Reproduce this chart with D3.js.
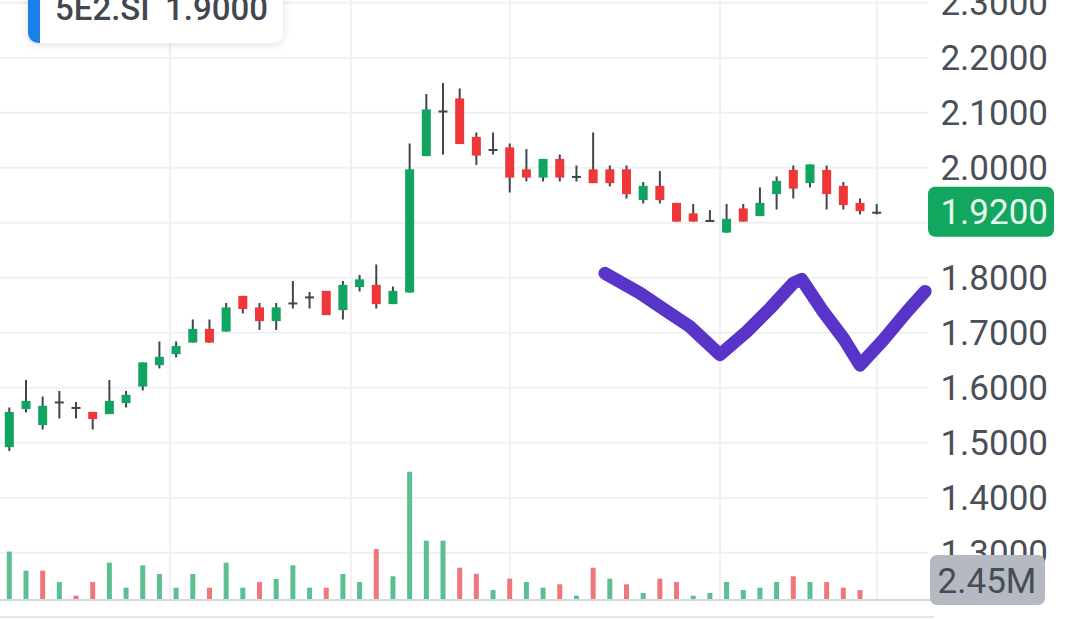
<!DOCTYPE html>
<html>
<head>
<meta charset="utf-8">
<script src="https://cdn.jsdelivr.net/npm/d3@7"></script>
<style>
  html, body { margin: 0; padding: 0; background: #fff; }
  svg { display: block; font-family: Roboto, "Noto Sans", sans-serif; }
</style>
</head>
<body>
<div class="visual"></div>
<script>
const width = 1080;
const height = 619;

// daily candles
const opens  = [1.492, 1.561, 1.532, 1.575, 1.565, 1.556, 1.552, 1.572, 1.602, 1.641,
                1.661, 1.682, 1.707, 1.702, 1.767, 1.746, 1.721, 1.755, 1.766, 1.776,
                1.741, 1.783, 1.787, 1.752, 1.773, 2.021, 2.104, 2.126, 2.056, 2.034,
                2.037, 1.997, 1.982, 2.016, 1.985, 1.997, 1.997, 1.997, 1.941, 1.967,
                1.936, 1.917, 1.905, 1.882, 1.926, 1.912, 1.952, 1.996, 1.972, 1.996,
                1.967, 1.936, 1.920];
const highs  = [1.564, 1.614, 1.584, 1.594, 1.574, 1.556, 1.614, 1.594, 1.646, 1.684,
                1.684, 1.724, 1.724, 1.754, 1.767, 1.754, 1.754, 1.794, 1.774, 1.776,
                1.794, 1.805, 1.824, 1.784, 2.044, 2.134, 2.154, 2.144, 2.064, 2.064,
                2.044, 2.034, 2.016, 2.024, 2.004, 2.064, 2.004, 2.004, 1.974, 1.994,
                1.936, 1.934, 1.923, 1.934, 1.934, 1.964, 1.984, 2.004, 2.006, 2.004,
                1.974, 1.944, 1.934];
const lows   = [1.485, 1.555, 1.524, 1.544, 1.544, 1.524, 1.552, 1.564, 1.595, 1.635,
                1.655, 1.682, 1.682, 1.702, 1.735, 1.705, 1.705, 1.744, 1.744, 1.732,
                1.724, 1.775, 1.744, 1.752, 1.773, 2.021, 2.024, 2.043, 2.005, 2.024,
                1.955, 1.975, 1.975, 1.975, 1.975, 1.972, 1.966, 1.944, 1.935, 1.935,
                1.902, 1.902, 1.902, 1.882, 1.902, 1.912, 1.924, 1.944, 1.964, 1.924,
                1.924, 1.915, 1.915];
const closes = [1.556, 1.576, 1.567, 1.575, 1.565, 1.543, 1.576, 1.587, 1.646, 1.656,
                1.676, 1.707, 1.682, 1.746, 1.743, 1.721, 1.746, 1.755, 1.766, 1.732,
                1.787, 1.797, 1.752, 1.776, 1.997, 2.106, 2.104, 2.043, 2.022, 2.034,
                1.982, 1.982, 2.016, 1.982, 1.985, 1.972, 1.972, 1.952, 1.967, 1.941,
                1.902, 1.902, 1.905, 1.907, 1.902, 1.936, 1.976, 1.962, 2.006, 1.952,
                1.932, 1.921, 1.920];

// volume in millions, and whether the bar is painted as up (1) or down (0)
const volumes = [12.9, 7.7, 7.7, 4.63, 0.9, 4.63, 9.88, 3.08, 9.17, 6.8,
                 3.08, 6.8, 3.08, 9.88, 3.08, 4.63, 5.44, 9.17, 3.08, 3.08,
                 6.8, 4.63, 13.6, 6.18, 34.65, 15.87, 15.87, 8.52, 6.89, 2.45,
                 5.53, 4.63, 3.08, 4.0, 0.9, 8.52, 5.53, 4.0, 1.63, 5.53,
                 4.63, 0.9, 1.63, 4.63, 2.45, 3.08, 4.63, 6.18, 4.63, 4.63,
                 3.08, 2.45, 0];
const volUp = [1, 1, 0, 1, 0, 0, 1, 1, 1, 1,
               1, 1, 0, 1, 1, 0, 1, 1, 1, 0,
               1, 1, 0, 1, 1, 1, 1, 0, 0, 1,
               0, 1, 1, 0, 1, 0, 1, 0, 1, 0,
               0, 1, 1, 1, 1, 1, 1, 0, 1, 0,
               0, 0, 1];

const gridTicks = [1.3, 1.4, 1.5, 1.6, 1.7, 1.8, 1.9, 2.0, 2.1, 2.2, 2.3];
// 1.9000 sits under the last-price badge, so it is not labelled
const labelTicks = [1.3, 1.4, 1.5, 1.6, 1.7, 1.8, 2.0, 2.1, 2.2, 2.3];
const monthTicks = [9.63, 20.48, 30.02, 42.61, 52.02]; // bar positions of the time grid

const symbol = "5E2.SI";
const legendPrice = 1.9;
const lastPrice = 1.92;
const lastVolumeLabel = "2.45M";

// hand drawn stroke over the chart, as (bar index, price)
const scribble = [[35.71, 1.808], [37.81, 1.772], [39.61, 1.735], [40.81, 1.711], [42.61, 1.66],
                  [44.21, 1.702], [45.6, 1.744], [47.0, 1.790], [47.5, 1.797], [48.8, 1.738],
                  [50.0, 1.69], [51.0, 1.641], [52.4, 1.687], [53.8, 1.738], [54.9, 1.775]];

const upColor = "#0fa45f";
const downColor = "#ef3639";
const wickColor = "#41454d";
const paneRight = 928;

const svg = d3
  .select(".visual")
  .append("svg")
  .attr("width", width)
  .attr("height", height);

const x = d3.scaleLinear().domain([0, 52]).range([9.3, 876.7]);
const y = d3.scaleLinear().domain([1.3, 2.3]).range([552.7, 2.7]);
const yVol = d3.scaleLinear().domain([0, d3.max(volumes)]).range([599, 471.7]);

// grid
svg.append("g")
  .selectAll("line")
  .data(gridTicks)
  .enter()
  .append("line")
  .attr("x1", 0)
  .attr("x2", paneRight)
  .attr("y1", (d) => y(d))
  .attr("y2", (d) => y(d))
  .attr("stroke", "#eff0f3")
  .attr("stroke-width", 2);

svg.append("g")
  .selectAll("line")
  .data(monthTicks)
  .enter()
  .append("line")
  .attr("x1", (d) => x(d))
  .attr("x2", (d) => x(d))
  .attr("y1", 0)
  .attr("y2", 599)
  .attr("stroke", "#eff0f3")
  .attr("stroke-width", 2);

// volume bars
svg.append("g")
  .selectAll("rect")
  .data(volumes)
  .enter()
  .append("rect")
  .attr("x", (d, i) => x(i) - 2.5)
  .attr("width", 5)
  .attr("y", (d) => yVol(d))
  .attr("height", (d) => yVol(0) - yVol(d))
  .attr("fill", (d, i) => (volUp[i] ? "#5cbf8f" : "#ef777c"));

// candles
const bars = opens.map((o, i) => ({ i, o, h: highs[i], l: lows[i], c: closes[i] }));

const candle = svg.append("g")
  .selectAll("g")
  .data(bars)
  .enter()
  .append("g");

candle.append("line")
  .attr("x1", (d) => x(d.i))
  .attr("x2", (d) => x(d.i))
  .attr("y1", (d) => y(d.h))
  .attr("y2", (d) => y(d.l))
  .attr("stroke", wickColor)
  .attr("stroke-width", 2);

candle.append("rect")
  .attr("x", (d) => x(d.i) - 4.5)
  .attr("width", 9)
  .attr("y", (d) => y(Math.max(d.o, d.c)))
  .attr("height", (d) => Math.max(2, Math.abs(y(d.o) - y(d.c))))
  .attr("fill", (d) =>
    Math.abs(d.c - d.o) < 0.001 ? wickColor : d.c > d.o ? upColor : downColor
  );

// pane borders
svg.append("line")
  .attr("x1", 0).attr("x2", 934)
  .attr("y1", 600).attr("y2", 600)
  .attr("stroke", "#d5d8dd").attr("stroke-width", 2);
svg.append("line")
  .attr("x1", 0).attr("x2", 934)
  .attr("y1", 617).attr("y2", 617)
  .attr("stroke", "#e2e5e9").attr("stroke-width", 2);

// scribble
svg.append("path")
  .datum(scribble)
  .attr("d", d3.line().x((d) => x(d[0])).y((d) => y(d[1])))
  .attr("fill", "none")
  .attr("stroke", "#5934c9")
  .attr("stroke-width", 13)
  .attr("stroke-linecap", "round")
  .attr("stroke-linejoin", "round");

// price axis
svg.append("g")
  .selectAll("text")
  .data(labelTicks)
  .enter()
  .append("text")
  .attr("x", 1048)
  .attr("y", (d) => y(d))
  .attr("dy", "0.36em")
  .attr("text-anchor", "end")
  .attr("font-size", 35)
  .attr("fill", "#4a4f57")
  .text((d) => d.toFixed(4));

// last price badge
svg.append("rect")
  .attr("x", paneRight)
  .attr("y", y(lastPrice) - 25)
  .attr("width", 126)
  .attr("height", 50)
  .attr("rx", 7)
  .attr("fill", "#13a65f");
svg.append("text")
  .attr("x", 1048)
  .attr("y", y(lastPrice))
  .attr("dy", "0.36em")
  .attr("text-anchor", "end")
  .attr("font-size", 35)
  .attr("fill", "#e6fbef")
  .text(lastPrice.toFixed(4));

// last volume badge
const volBadgeY = Math.min(yVol(volumes[51]), 580);
svg.append("rect")
  .attr("x", 930)
  .attr("y", volBadgeY - 25)
  .attr("width", 115)
  .attr("height", 50)
  .attr("rx", 7)
  .attr("fill", "#b5b9c1");
svg.append("text")
  .attr("x", 987)
  .attr("y", volBadgeY)
  .attr("dy", "0.36em")
  .attr("text-anchor", "middle")
  .attr("font-size", 35)
  .attr("fill", "#474c54")
  .text(lastVolumeLabel);

// legend box top left
const defs = svg.append("defs");
const shadow = defs.append("filter").attr("id", "shadow")
  .attr("x", "-20%").attr("y", "-50%").attr("width", "140%").attr("height", "200%");
shadow.append("feDropShadow")
  .attr("dx", 0).attr("dy", 2).attr("stdDeviation", 4)
  .attr("flood-color", "#000").attr("flood-opacity", 0.12);
defs.append("clipPath").attr("id", "legendClip")
  .append("rect")
  .attr("x", 28).attr("y", -12).attr("width", 255).attr("height", 55).attr("rx", 10);

const legend = svg.append("g");
legend.append("rect")
  .attr("x", 28).attr("y", -12).attr("width", 255).attr("height", 55).attr("rx", 10)
  .attr("fill", "#fff")
  .attr("filter", "url(#shadow)");
legend.append("rect")
  .attr("x", 28).attr("y", -12).attr("width", 12).attr("height", 55)
  .attr("fill", "#1b7fe8")
  .attr("clip-path", "url(#legendClip)");
legend.append("text")
  .attr("x", 55).attr("y", 20)
  .attr("font-size", 33).attr("font-weight", 500)
  .attr("fill", "#42474f")
  .text(symbol);
legend.append("text")
  .attr("x", 165).attr("y", 20)
  .attr("font-size", 33).attr("font-weight", 500)
  .attr("fill", "#42474f")
  .text(legendPrice.toFixed(4));
</script>
</body>
</html>
